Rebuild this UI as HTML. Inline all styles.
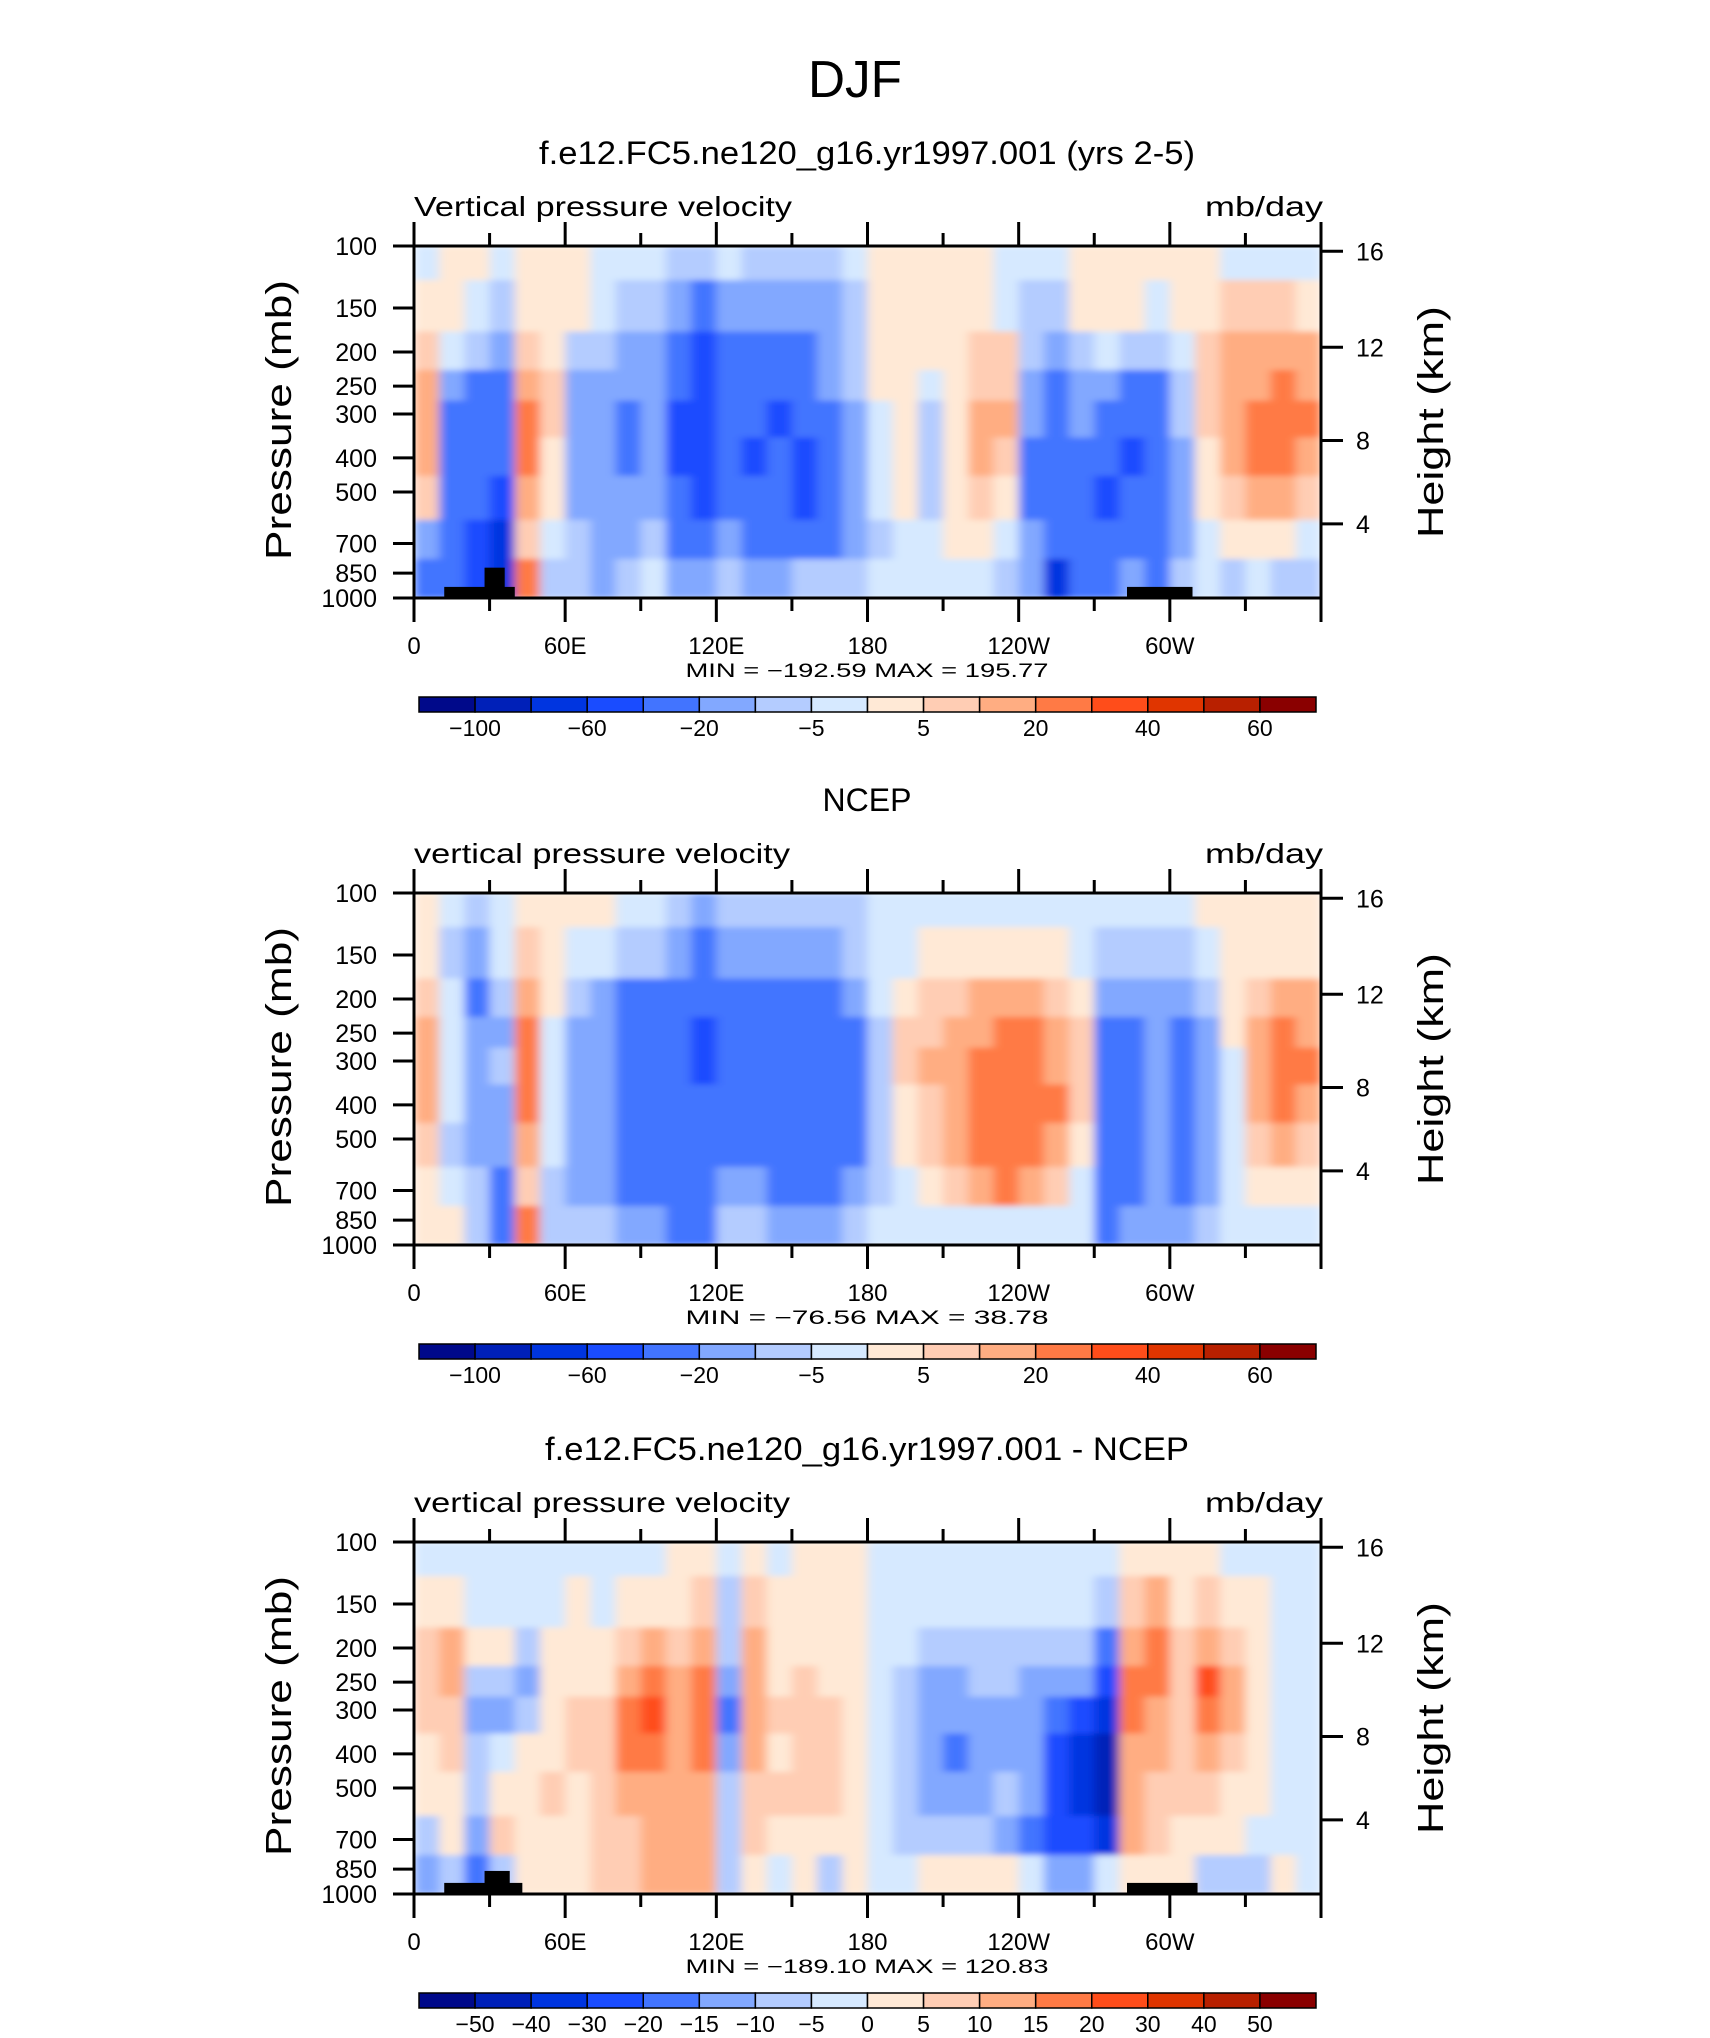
<!DOCTYPE html>
<html><head><meta charset="utf-8">
<style>
html,body{margin:0;padding:0;background:#fff;}
svg{display:block;}
text{font-family:"Liberation Sans",sans-serif;fill:#000;}
</style></head>
<body>
<svg id="fig" width="1710" height="2038" viewBox="0 0 1710 2038" xmlns="http://www.w3.org/2000/svg">
<defs>
<filter id="soft" x="0" y="0" width="1" height="1" filterUnits="objectBoundingBox"><feGaussianBlur stdDeviation="5 3" edgeMode="duplicate"/></filter>
</defs>
<text x="855" y="97" font-size="52" text-anchor="middle" textLength="94" lengthAdjust="spacingAndGlyphs">DJF</text>
</svg>
<script>
const lons = [0,10,20,30,40,50,60,70,80,90,100,110,120,130,140,150,160,170,180,190,200,210,220,230,240,250,260,270,280,290,300,310,320,330,340,350];
const levelEdges = [100,125,175,225,275,350,450,600,775,1000];
const xTickLons = [0,60,120,180,240,300];
const xTickLabels = ["0","60E","120E","180","120W","60W"];
const pTicks = [100,150,200,250,300,400,500,700,850,1000];
const hTicks = [4,8,12,16];
const hTickPressures = [616,357,194,103.5];
const bounds12 = [-100,-80,-60,-40,-20,-10,-5,0,5,10,20,30,40,50,60];
const labels12 = ["−100","","−60","","−20","","−5","","5","","20","","40","","60"];
const bounds3 = [-50,-40,-30,-20,-15,-10,-5,0,5,10,15,20,30,40,50];
const labels3 = ["−50","−40","−30","−20","−15","−10","−5","0","5","10","15","20","30","40","50"];
const model = [
[-2,2,7,15,15,15,7,-15,-30],[2,2,-2,-15,-30,-30,-30,-30,-30],[2,-2,-7,-30,-30,-30,-30,-50,-50],[-2,-7,-15,-30,-30,-30,-50,-70,-70],
[2,2,7,15,25,25,15,7,25],[2,2,2,7,7,2,2,-2,-7],[2,2,-7,-15,-15,-15,-15,-7,-7],[-2,-2,-7,-15,-15,-15,-15,-15,-15],
[-2,-7,-15,-15,-30,-30,-15,-15,-7],[-2,-7,-15,-15,-15,-15,-15,-7,-2],[-7,-15,-30,-30,-50,-50,-30,-30,-15],[-7,-30,-50,-50,-50,-50,-50,-30,-15],
[-2,-15,-30,-30,-30,-30,-30,-15,-7],[-7,-15,-30,-30,-30,-50,-30,-30,-15],[-7,-15,-30,-30,-50,-30,-30,-30,-15],[-7,-15,-30,-30,-30,-50,-50,-30,-7],
[-7,-15,-15,-15,-30,-30,-30,-30,-7],[-2,-7,-7,-7,-15,-15,-15,-15,-7],[2,2,2,2,-2,-2,-2,-7,-2],[2,2,2,2,2,2,2,-2,-2],
[2,2,2,-2,-7,-7,-7,-2,-2],[2,2,2,2,2,2,2,2,-2],[2,2,7,7,15,15,7,2,-2],[-2,-2,7,7,15,7,2,-2,-7],
[-2,-7,-7,-15,-15,-30,-30,-15,-15],[-2,-7,-15,-30,-30,-30,-30,-30,-70],[2,2,-7,-15,-15,-30,-30,-30,-30],[2,2,-2,-15,-30,-30,-50,-30,-30],
[2,2,-7,-30,-30,-50,-30,-30,-15],[2,-2,-7,-30,-30,-30,-30,-30,-30],[2,2,-2,-7,-7,-15,-15,-15,-7],[2,2,7,7,7,2,2,-2,-2],
[-2,7,15,15,15,15,7,2,-7],[-2,7,15,15,25,25,15,2,-2],[-2,7,15,25,25,25,15,2,-7],[-2,2,15,15,25,15,7,-2,-7]];
const ncep = [
[2,2,7,15,15,15,7,2,2],[-2,-7,-2,-2,-2,-2,-7,-2,2],[-7,-15,-30,-15,-15,-15,-15,-7,-7],[-2,-2,-7,-15,-7,-15,-15,-30,-30],
[2,7,15,25,25,25,15,7,25],[2,2,2,-2,-2,-2,-2,-7,-7],[2,-2,-7,-15,-15,-15,-15,-15,-7],[2,-2,-15,-15,-15,-15,-15,-15,-7],
[-2,-7,-30,-30,-30,-30,-30,-30,-15],[-2,-7,-30,-30,-30,-30,-30,-30,-15],[-7,-15,-30,-30,-30,-30,-30,-30,-30],[-15,-30,-30,-50,-50,-30,-30,-30,-30],
[-7,-15,-30,-30,-30,-30,-30,-15,-7],[-7,-15,-30,-30,-30,-30,-30,-15,-7],[-7,-15,-30,-30,-30,-30,-30,-30,-15],[-7,-15,-30,-30,-30,-30,-30,-30,-15],
[-7,-15,-30,-30,-30,-30,-30,-30,-15],[-7,-7,-15,-30,-30,-30,-30,-15,-7],[-2,-2,-2,-7,-7,-7,-7,-7,-2],[-2,-2,2,7,7,2,2,-2,-2],
[-2,2,7,7,15,7,7,2,-2],[-2,2,7,15,15,15,15,7,-2],[-2,2,15,15,25,25,25,15,-2],[-2,2,15,25,25,25,25,25,-2],
[-2,2,15,25,25,25,25,15,-2],[-2,2,7,15,15,25,15,7,-2],[-2,-2,2,7,7,7,2,-2,-2],[-2,-7,-15,-30,-30,-30,-30,-30,-30],
[-2,-7,-15,-30,-30,-30,-30,-30,-15],[-2,-7,-15,-15,-15,-15,-15,-15,-15],[-2,-7,-15,-30,-30,-30,-30,-30,-15],[2,-2,-7,-15,-15,-15,-15,-15,-7],
[2,2,2,2,-2,-2,-2,-2,-2],[2,2,7,15,15,15,7,2,-2],[2,2,15,25,25,25,15,2,-2],[2,2,15,15,25,15,7,2,-2]];
const diff = [
[-2,2,7,7,7,2,2,-7,-12],[-2,2,12,12,7,7,2,2,-7],[-2,-2,2,-7,-12,-7,-7,-12,-17],[-2,-2,2,-7,-12,-2,2,7,-7],
[-2,-2,-7,-12,-7,2,2,2,2],[-2,-2,2,2,2,2,7,2,2],[-2,2,2,2,7,7,2,2,2],[-2,-2,2,2,7,7,7,7,7],
[-2,2,7,12,17,17,12,7,7],[-2,2,12,17,25,17,12,12,12],[2,2,7,12,12,12,12,12,12],[2,7,12,17,17,17,12,12,12],
[-2,-7,-7,-12,-17,-12,-7,-7,-7],[2,7,12,12,12,12,7,7,2],[-2,2,2,2,7,2,7,2,-2],[2,2,2,7,7,7,7,2,2],
[2,2,2,2,7,7,7,2,-7],[2,2,2,2,2,2,2,2,2],[-2,-2,-2,-2,-2,-2,-2,-2,-2],[-2,-2,-2,-7,-7,-7,-7,-7,-2],
[-2,-2,-7,-12,-12,-12,-12,-7,2],[-2,-2,-7,-12,-12,-17,-12,-7,2],[-2,-2,-7,-7,-12,-12,-12,-7,2],[-2,-2,-7,-7,-12,-12,-7,-12,2],
[-2,-2,-7,-12,-12,-12,-12,-17,-2],[-2,-2,-7,-12,-17,-25,-25,-25,-12],[-2,-2,-7,-12,-25,-35,-35,-25,-12],[-2,-7,-17,-25,-35,-45,-45,-35,-2],
[2,7,12,17,17,12,12,12,2],[2,12,17,17,12,12,7,7,2],[2,2,7,7,7,7,7,2,2],[2,7,12,25,17,12,7,2,-7],
[-2,2,7,12,12,7,2,2,-7],[-2,2,2,2,2,2,2,-2,-7],[-2,-2,-2,-2,-2,-2,-2,-2,2],[-2,-2,-2,-2,-2,-2,-2,-2,-2]];
// topography blocks: [lonStart, lonEnd, topPressure]
const topo1 = [[12,40,930],[28,36,820],[283,309,930]];
const topo3 = [[12,43,930],[28,38,860],[283,311,930]];
const colors = ["#00098a","#0020b8","#0035e0","#1a4cff","#4274ff","#82a8ff","#b4ccff","#d6e9ff","#ffe9d6","#ffcdb4","#ffad82","#ff7a45","#ff4d1a","#e03500","#b82000","#8a0000"];

const svg = document.getElementById('fig');
const NS = 'http://www.w3.org/2000/svg';
const L = 414, W = 907, H = 352;
function mk(tag, attrs, parent){ const e=document.createElementNS(NS,tag); for(const k in attrs) e.setAttribute(k,attrs[k]); (parent||svg).appendChild(e); return e; }
function txt(s, attrs, parent){ const e=mk('text',attrs,parent); e.textContent=s; return e; }
function colorFor(v,b){ let i=0; while(i<b.length && v>=b[i]) i++; return colors[i]; }

const panels = [
 {top:246, data:model, bounds:bounds12, labels:labels12, topo:topo1, title:"f.e12.FC5.ne120_g16.yr1997.001 (yrs 2-5)", tlen:656, sub:"Vertical pressure velocity", slen:378, mm:"MIN = −192.59   MAX = 195.77", name:"model"},
 {top:893, data:ncep, bounds:bounds12, labels:labels12, topo:[], title:"NCEP", tlen:0, sub:"vertical pressure velocity", slen:376, mm:"MIN = −76.56   MAX =  38.78", name:"ncep"},
 {top:1542, data:diff, bounds:bounds3, labels:labels3, topo:topo3, title:"f.e12.FC5.ne120_g16.yr1997.001 - NCEP", tlen:644, sub:"vertical pressure velocity", slen:376, mm:"MIN = −189.10   MAX = 120.83", name:"diff"}
];

panels.forEach((p,pi)=>{
  const T=p.top;
  const x = lon => L + lon/360*W;
  const y = pr => T + (Math.log10(pr)-2)*H;
  const g = mk('g',{});
  
  
  const tt = txt(p.title,{x:867,y:T-82,'font-size':32,'text-anchor':'middle'},g);
  if(p.tlen){ tt.setAttribute('textLength',p.tlen); tt.setAttribute('lengthAdjust','spacingAndGlyphs'); }
  
  
  const st = txt(p.sub,{x:L,y:T-30,'font-size':28,textLength:p.slen,lengthAdjust:'spacingAndGlyphs'},g);
  
  
  const un = txt("mb/day",{x:L+W+2,y:T-30,'font-size':28,'text-anchor':'end',textLength:118,lengthAdjust:'spacingAndGlyphs'},g);
  
  
  const clip = mk('clipPath',{id:'clip'+pi},g);
  mk('rect',{x:L,y:T,width:W,height:H},clip);
  const outer = mk('g',{'clip-path':'url(#clip'+pi+')'},g);
  const cg = mk('g',{filter:'url(#soft)'},outer);
  
  
  p.data.forEach((col,i)=>{
    const x0=x(lons[i]), x1=(i+1<lons.length)?x(lons[i+1]):x(360);
    col.forEach((v,j)=>{
      const y0=y(levelEdges[j]), y1=y(levelEdges[j+1]);
      const r=mk('rect',{x:x0,y:y0,width:x1-x0+0.6,height:y1-y0+0.6,fill:colorFor(v,p.bounds)},cg);
      
      
    });
  });
  p.topo.forEach(tb=>{
    const r=mk('rect',{x:x(tb[0]),y:y(tb[2]),width:x(tb[1])-x(tb[0]),height:y(1000)-y(tb[2]),fill:'#000'},g);
    
    
  });
  const fr=mk('rect',{x:L,y:T,width:W,height:H,fill:'none',stroke:'#000','stroke-width':3},g);
  
  
  for(let lon=0; lon<=360; lon+=30){
    const major = lon%60===0, len = major?24:13;
    mk('line',{x1:x(lon),x2:x(lon),y1:T,y2:T-len,stroke:'#000','stroke-width':3},g);
    mk('line',{x1:x(lon),x2:x(lon),y1:T+H,y2:T+H+len,stroke:'#000','stroke-width':3},g);
  }
  xTickLons.forEach((lon,i)=>{
    const e=txt(xTickLabels[i],{x:x(lon),y:T+H+56,'font-size':24,'text-anchor':'middle'},g);
    
    
  });
  pTicks.forEach(pr=>{
    mk('line',{x1:L-21,x2:L,y1:y(pr),y2:y(pr),stroke:'#000','stroke-width':3},g);
    const e=txt(String(pr),{x:377,y:y(pr)+9,'font-size':25,'text-anchor':'end'},g);
    
    
  });
  hTickPressures.forEach((pr,i)=>{
    mk('line',{x1:L+W,x2:L+W+22,y1:y(pr),y2:y(pr),stroke:'#000','stroke-width':3},g);
    const e=txt(String(hTicks[i]),{x:1356,y:y(pr)+9,'font-size':25},g);
    
    
  });
  const yl=txt("Pressure (mb)",{x:0,y:0,'font-size':36,'text-anchor':'middle',textLength:280,lengthAdjust:'spacingAndGlyphs',transform:`translate(291,${T+174}) rotate(-90)`},g);
  
  
  const hl=txt("Height (km)",{x:0,y:0,'font-size':36,'text-anchor':'middle',textLength:232,lengthAdjust:'spacingAndGlyphs',transform:`translate(1443,${T+176}) rotate(-90)`},g);
  
  
  const mm=txt(p.mm,{x:867,y:T+H+79,'font-size':19,'text-anchor':'middle',textLength:363,lengthAdjust:'spacingAndGlyphs'},g);
  
  
  const cbL=419, cbW=897, cbT=T+H+99, cbH=15, bw=cbW/16;
  const cb=mk('g',{},g);
  
  
  colors.forEach((c,i)=>{
    const r=mk('rect',{x:cbL+i*bw,y:cbT,width:bw,height:cbH,fill:c,stroke:'#000','stroke-width':1.5},cb);
    
    
  });
  p.labels.forEach((s,i)=>{
    if(!s) return;
    const e=txt(s,{x:cbL+(i+1)*bw,y:cbT+39,'font-size':23,'text-anchor':'middle'},cb);
    
    
  });
});
</script>
</body></html>
